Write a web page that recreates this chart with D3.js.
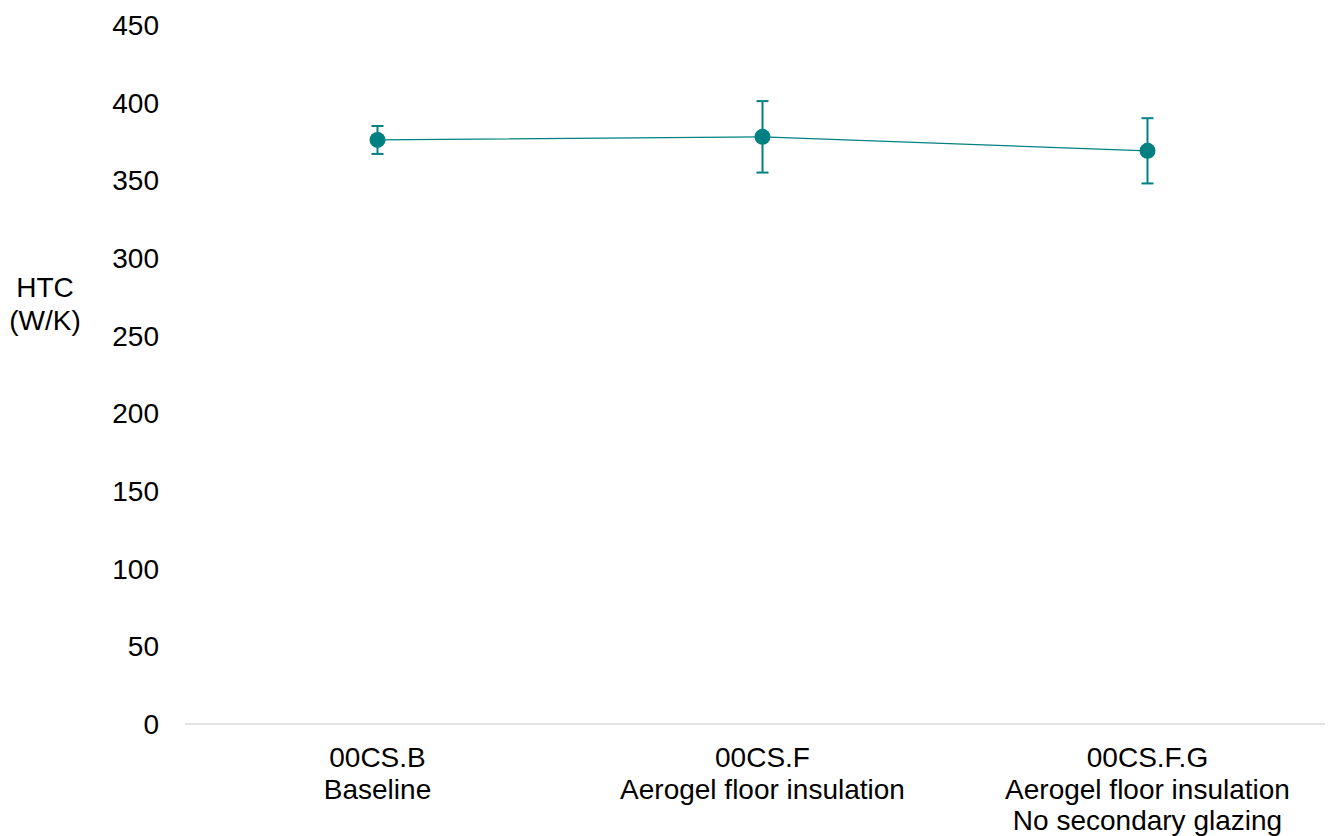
<!DOCTYPE html>
<html lang="en">
<head>
  <meta charset="UTF-8">
  <title>HTC</title>
  <script src="https://d3js.org/d3.v7.min.js"></script>
  <style>
    body { margin: 0; background: #fff; }
    text { font-family: "Liberation Sans", Arial, sans-serif; fill: #000; }
  </style>
</head>
<body>
  <svg width="1342" height="836"></svg>
  <script>
    const categories = [
      ["00CS.B", "Baseline"],
      ["00CS.F", "Aerogel floor insulation"],
      ["00CS.F.G", "Aerogel floor insulation", "No secondary glazing"]
    ];
    const htc = [376, 378, 369];
    const htcHigh = [385, 401, 390];
    const htcLow = [367, 355, 348];
    const yTicks = [0, 50, 100, 150, 200, 250, 300, 350, 400, 450];

    const width = 1342, height = 836;
    const margin = { top: 25, right: 2, bottom: 112, left: 185 };
    const fontSize = 28;
    const svg = d3.select("svg");
    const teal = "#008080";

    const x = d3.scaleBand()
      .domain(d3.range(categories.length))
      .range([margin.left, width - margin.right]);
    const y = d3.scaleLinear()
      .domain([0, 450])
      .range([height - margin.bottom, margin.top]);

    // y tick labels (no axis line)
    svg.append("g").selectAll("text")
      .data(yTicks)
      .join("text")
      .attr("x", 159)
      .attr("y", d => y(d) + 10)
      .attr("text-anchor", "end")
      .attr("font-size", fontSize)
      .text(d => d);

    // baseline
    svg.append("line")
      .attr("x1", margin.left).attr("x2", 1325)
      .attr("y1", y(0)).attr("y2", y(0))
      .attr("stroke", "#d9d9d9").attr("stroke-width", 1.5);

    // y title
    svg.append("text")
      .attr("x", 45).attr("y", 297)
      .attr("text-anchor", "middle")
      .attr("font-size", fontSize)
      .selectAll("tspan")
      .data(["HTC", "(W/K)"])
      .join("tspan")
      .attr("x", 45)
      .attr("dy", (d, i) => i === 0 ? 0 : 33)
      .text(d => d);

    // category labels
    svg.append("g").selectAll("text")
      .data(categories)
      .join("text")
      .attr("x", (d, i) => x(i) + x.bandwidth() / 2)
      .attr("y", 767)
      .attr("text-anchor", "middle")
      .attr("font-size", fontSize)
      .each(function (d, i) {
        d3.select(this).selectAll("tspan")
          .data(d)
          .join("tspan")
          .attr("x", x(i) + x.bandwidth() / 2)
          .attr("dy", (t, j) => j === 0 ? 0 : 31.5)
          .text(t => t);
      });

    const cx = i => x(i) + x.bandwidth() / 2;

    // line
    svg.append("path")
      .datum(htc)
      .attr("fill", "none")
      .attr("stroke", teal)
      .attr("stroke-width", 1.3)
      .attr("d", d3.line().x((d, i) => cx(i)).y(d => y(d)));

    // error bars
    const err = svg.append("g").attr("stroke", teal).attr("stroke-width", 2);
    err.selectAll(".v")
      .data(htc)
      .join("line")
      .attr("x1", (d, i) => cx(i)).attr("x2", (d, i) => cx(i))
      .attr("y1", (d, i) => y(htcHigh[i])).attr("y2", (d, i) => y(htcLow[i]));
    [htcHigh, htcLow].forEach(arr => {
      err.append("g").selectAll("line")
        .data(arr)
        .join("line")
        .attr("x1", (d, i) => cx(i) - 6).attr("x2", (d, i) => cx(i) + 6)
        .attr("y1", d => y(d)).attr("y2", d => y(d));
    });

    // markers
    svg.append("g").selectAll("circle")
      .data(htc)
      .join("circle")
      .attr("cx", (d, i) => cx(i))
      .attr("cy", d => y(d))
      .attr("r", 8)
      .attr("fill", teal);
  </script>
</body>
</html>
